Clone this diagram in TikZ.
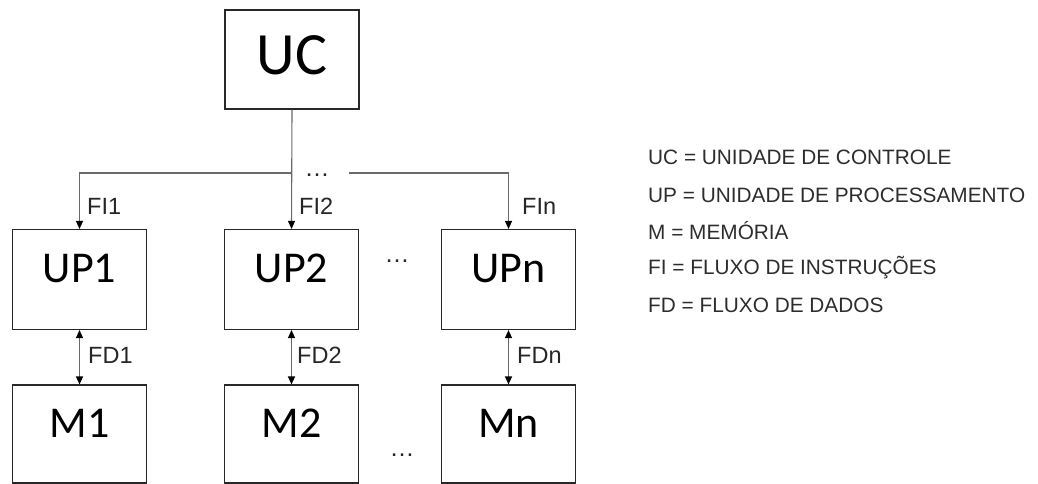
\documentclass[tikz,border=0pt]{standalone}
\usepackage{fontspec}
\setmainfont{Liberation Sans}
\newfontfamily\boxfont{Carlito}
\usetikzlibrary{arrows.meta}
\definecolor{boxline}{RGB}{40,40,40}
\definecolor{flowline}{RGB}{105,105,105}
\definecolor{legendtext}{RGB}{45,45,45}

\begin{document}
\begin{tikzpicture}[
    x=1pt, y=-1pt,
    unit/.style={draw=boxline, line width=1.1pt, minimum width=134pt, minimum height=100pt, inner sep=0pt, font=\boxfont\fontsize{44}{44}\selectfont, text height=31pt, text depth=25pt},
    ucbox/.style={unit, minimum height=99pt, font=\boxfont\fontsize{60}{60}\selectfont, text height=40pt, text depth=9pt},
    membox/.style={unit, minimum height=98pt},
    flow/.style={draw=flowline, line width=1.1pt, -{Triangle[length=8pt, width=7pt, color=black]}},
    dflow/.style={flow, {Triangle[length=8pt, width=7pt, color=black]}-{Triangle[length=8pt, width=7pt, color=black]}},
    flowlabel/.style={anchor=west, inner sep=0pt, font=\fontsize{23.5}{24}\selectfont, text=black!85},
    dots/.style={font=\fontsize{25}{25}\selectfont, inner sep=0pt, text=black!85},
    legend/.style={anchor=west, inner sep=0pt, font=\fontsize{20.8}{21}\selectfont, text=legendtext}
]
\useasboundingbox (0,0) rectangle (1038,484);

% ---------- Control unit ----------
\node[ucbox] (UC) at (292,59.5) {UC};

% ---------- Processing units ----------
\node[unit] (UP1) at (79.5,279.5) {UP1};
\node[unit] (UP2) at (291.5,279.5) {UP2};
\node[unit] (UPn) at (508.5,279.5) {UPn};
\node[dots] (updots) at (397,261) {…};

% ---------- Memories ----------
\node[membox] (M1) at (79.5,434) {M1};
\node[membox] (M2) at (291.5,434) {M2};
\node[membox] (Mn) at (508.5,434) {Mn};
\node[dots] (mdots) at (402,455) {…};

% ---------- Instruction flows ----------
\coordinate (split) at (291.5,173);
\coordinate (rjoin) at (349,173);
\node[dots] (fidots) at (317,175) {…};
\draw[flow] (UC.south) -- (UP2.north);
\draw[flow] (split) -| (UP1.north);
\draw[flow] (rjoin) -| (UPn.north);
\node[flowlabel] (FI1) at (87,206) {FI1};
\node[flowlabel] (FI2) at (299,206) {FI2};
\node[flowlabel] (FIn) at (522,206) {FIn};

% ---------- Data flows ----------
\draw[dflow] (UP1.south) -- (M1.north);
\draw[dflow] (UP2.south) -- (M2.north);
\draw[dflow] (UPn.south) -- (Mn.north);
\node[flowlabel] (FD1) at (88,355) {FD1};
\node[flowlabel] (FD2) at (297,355) {FD2};
\node[flowlabel] (FDn) at (517,355) {FDn};

% ---------- Legend ----------
\node[legend] (legUC) at (648,157) {UC = UNIDADE DE CONTROLE};
\node[legend] (legUP) at (648,195) {UP = UNIDADE DE PROCESSAMENTO};
\node[legend] (legM) at (648,231) {M = MEMÓRIA};
\node[legend] (legFI) at (648,268) {FI = FLUXO DE INSTRUÇÕES};
\node[legend] (legFD) at (648,305) {FD = FLUXO DE DADOS};

\end{tikzpicture}
\end{document}
